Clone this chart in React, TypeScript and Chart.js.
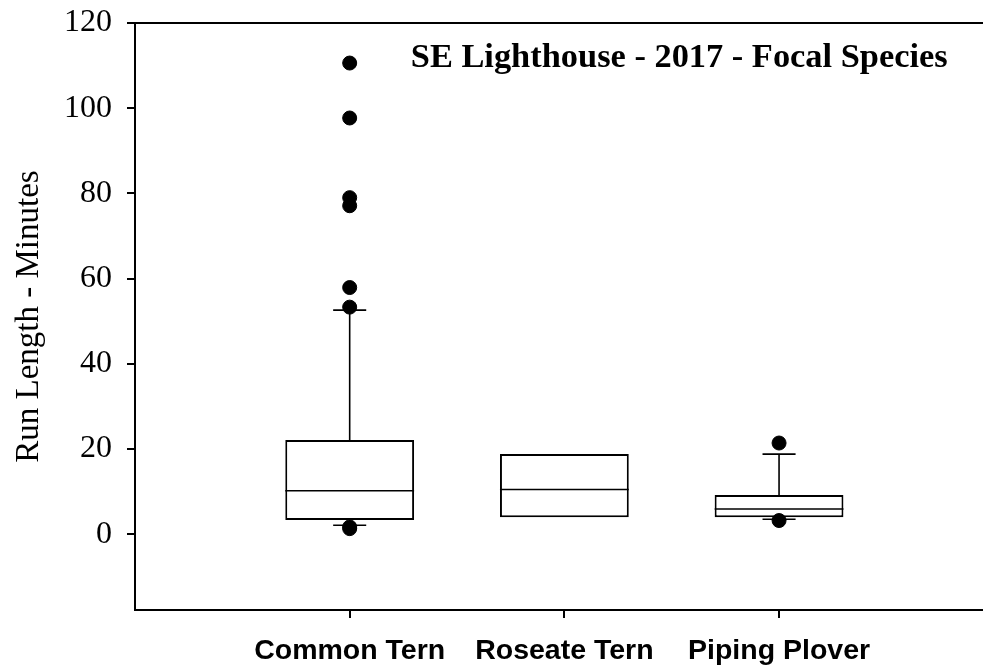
import React, { useEffect, useRef } from 'react';
import { Chart, registerables } from 'chart.js';

Chart.register(...registerables);

const categories = ['Common Tern', 'Roseate Tern', 'Piping Plover'];
const categoryPositions = [1, 2, 3];
const q1Values = [3.3, 4.0, 4.0];
const medianValues = [10.2, 10.5, 5.9];
const q3Values = [22.1, 18.8, 9.2];
const whiskerLowValues = [2.1, 4.0, 3.5];
const whiskerHighValues = [52.6, 18.8, 18.8];
const outlierCategories = [1, 1, 1, 1, 1, 1, 1, 1, 3, 3];
const outlierValues = [110.6, 97.7, 79.0, 77.1, 57.9, 53.3, 1.7, 1.3, 21.4, 3.2];
const yTickValues = [0, 20, 40, 60, 80, 100, 120];
const chartTitle = 'SE Lighthouse - 2017 - Focal Species';
const yAxisTitle = 'Run Length - Minutes';

const boxExtrasPlugin = {
  id: 'boxExtras',
  afterDatasetsDraw(chart: any) {
    const { ctx } = chart;
    const x = chart.scales.x;
    const y = chart.scales.y;
    const capHalf = 0.077;
    const boxHalf = 0.3;
    ctx.save();
    ctx.strokeStyle = '#000';
    categoryPositions.forEach((c, i) => {
      const cx = x.getPixelForValue(c);
      const capL = x.getPixelForValue(c - capHalf);
      const capR = x.getPixelForValue(c + capHalf);
      ctx.lineWidth = 1.6;
      if (whiskerHighValues[i] > q3Values[i]) {
        ctx.beginPath();
        ctx.moveTo(cx, y.getPixelForValue(q3Values[i]));
        ctx.lineTo(cx, y.getPixelForValue(whiskerHighValues[i]));
        ctx.moveTo(capL, y.getPixelForValue(whiskerHighValues[i]));
        ctx.lineTo(capR, y.getPixelForValue(whiskerHighValues[i]));
        ctx.stroke();
      }
      if (whiskerLowValues[i] < q1Values[i]) {
        ctx.beginPath();
        ctx.moveTo(cx, y.getPixelForValue(q1Values[i]));
        ctx.lineTo(cx, y.getPixelForValue(whiskerLowValues[i]));
        ctx.moveTo(capL, y.getPixelForValue(whiskerLowValues[i]));
        ctx.lineTo(capR, y.getPixelForValue(whiskerLowValues[i]));
        ctx.stroke();
      }
      ctx.lineWidth = 1.6;
      ctx.beginPath();
      ctx.moveTo(x.getPixelForValue(c - boxHalf), y.getPixelForValue(medianValues[i]));
      ctx.lineTo(x.getPixelForValue(c + boxHalf), y.getPixelForValue(medianValues[i]));
      ctx.stroke();
    });
    ctx.restore();
  },
  afterDraw(chart: any) {
    const { ctx, chartArea } = chart;
    const x = chart.scales.x;
    const y = chart.scales.y;
    ctx.save();
    ctx.strokeStyle = '#000';
    ctx.lineWidth = 2;
    ctx.beginPath();
    ctx.moveTo(chartArea.left, chartArea.top);
    ctx.lineTo(chartArea.right, chartArea.top);
    ctx.stroke();
    ctx.fillStyle = '#000';
    ctx.font = 'bold 34.4px "Liberation Serif"';
    ctx.textAlign = 'center';
    ctx.textBaseline = 'alphabetic';
    ctx.fillText(chartTitle, x.getPixelForValue(2.535), y.getPixelForValue(109.6));
    ctx.restore();
  },
};

export default function App() {
  const canvasRef = useRef<HTMLCanvasElement | null>(null);

  useEffect(() => {
    if (!canvasRef.current) return;
    const chart = new Chart(canvasRef.current, {
      data: {
        datasets: [
          {
            type: 'scatter',
            data: outlierValues.map((v, i) => ({ x: outlierCategories[i], y: v })),
            backgroundColor: '#000',
            borderColor: '#000',
            pointRadius: 7,
            pointHoverRadius: 7,
          },
          {
            type: 'bar',
            data: categoryPositions.map((c, i) => ({ x: c, y: [q1Values[i], q3Values[i]] })),
            backgroundColor: '#fff',
            borderColor: '#000',
            borderWidth: 2,
            borderSkipped: false,
            barPercentage: 0.6,
            categoryPercentage: 1,
          },
        ],
      } as any,
      options: {
        responsive: false,
        animation: false,
        layout: { autoPadding: false, padding: { top: 23, right: 0, left: 0, bottom: 0 } },
        plugins: {
          legend: { display: false },
          tooltip: { enabled: false },
          title: { display: false },
        },
        scales: {
          x: {
            type: 'linear',
            min: 0,
            max: 3.95,
            offset: false,
            afterBuildTicks: (s: any) => {
              s.ticks = categoryPositions.map((v) => ({ value: v }));
            },
            afterFit: (s: any) => {
              s.height = 57;
              s.paddingLeft = 0;
              s.paddingRight = 0;
            },
            ticks: {
              autoSkip: false,
              maxRotation: 0,
              minRotation: 0,
              padding: 16,
              color: '#000',
              font: { family: '"Liberation Sans", Arial', size: 28.5, weight: 'bold' },
              callback: (v: any) => {
                const idx = categoryPositions.indexOf(Number(v));
                return idx >= 0 ? categories[idx] : '';
              },
            },
            grid: {
              display: true,
              offset: false,
              drawOnChartArea: false,
              drawTicks: true,
              tickLength: 8,
              color: '#000',
              lineWidth: 2,
            },
            border: { display: true, color: '#000', width: 2 },
          },
          y: {
            type: 'linear',
            min: -17.8,
            max: 120,
            afterBuildTicks: (s: any) => {
              s.ticks = yTickValues.map((v) => ({ value: v }));
            },
            afterFit: (s: any) => {
              s.width = 135;
              s.paddingTop = 0;
              s.paddingBottom = 0;
            },
            ticks: {
              padding: 15,
              color: '#000',
              font: { family: '"Liberation Serif", "Times New Roman"', size: 32 },
            },
            grid: {
              display: true,
              drawOnChartArea: false,
              drawTicks: true,
              tickLength: 8,
              color: '#000',
              lineWidth: 2,
            },
            border: { display: true, color: '#000', width: 2 },
            title: {
              display: true,
              text: yAxisTitle,
              color: '#000',
              padding: { top: 10, bottom: 0 },
              font: { family: '"Liberation Serif", "Times New Roman"', size: 33 },
            },
          },
        },
      } as any,
      plugins: [boxExtrasPlugin],
    });
    return () => chart.destroy();
  }, []);

  return (
    <div style={{ position: 'absolute', left: 0, top: 0, width: 983, height: 667, background: '#fff' }}>
      <canvas ref={canvasRef} width={983} height={667} style={{ display: 'block' }} />
    </div>
  );
}
